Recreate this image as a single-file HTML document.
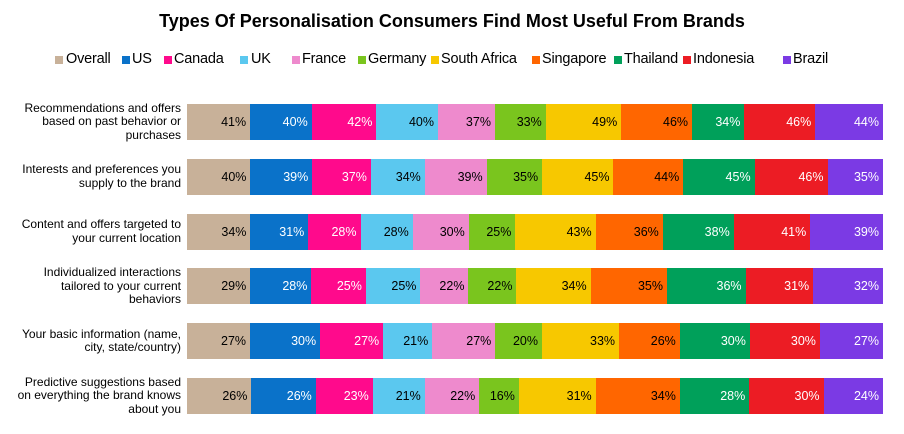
<!DOCTYPE html>
<html><head><meta charset="utf-8"><style>
body{margin:0;width:904px;height:434px;background:#fff;font-family:"Liberation Sans",Arial,sans-serif;position:relative;overflow:hidden}
.t{position:absolute;left:0;width:904px;top:11px;text-align:center;font-weight:bold;font-size:18px;color:#000}
.lg{position:absolute;top:51px;font-size:14.5px;letter-spacing:-0.2px;color:#000;white-space:nowrap}
.sq{position:absolute;top:56px;width:8px;height:8px}
.cat{position:absolute;left:0;width:181px;text-align:right;font-size:12px;line-height:13.5px;color:#000}
.seg{position:absolute;height:36px;font-size:12.5px;line-height:36px;text-align:right;box-sizing:border-box;padding-right:4px;white-space:nowrap}
</style></head><body>
<div class="t">Types Of Personalisation Consumers Find Most Useful From Brands</div>
<div id="root"></div>
<script>
var cols=["#C8B199","#0A72C9","#FF0A8C","#5BC8EF","#EE8ACD","#7AC51E","#F7C800","#FF6600","#00A05A","#EC1C24","#7B3AE4"];
var txt=["#000","#fff","#fff","#000","#000","#000","#000","#000","#fff","#fff","#fff"];
var names=["Overall","US","Canada","UK","France","Germany","South Africa","Singapore","Thailand","Indonesia","Brazil"];
var sx=[55,122,164,240,292,358,431,532,614,683,783];
var tx=[66,132,174,251,302,368,441,542,624,693,793];
var data=[[41,40,42,40,37,33,49,46,34,46,44],[40,39,37,34,39,35,45,44,45,46,35],[34,31,28,28,30,25,43,36,38,41,39],[29,28,25,25,22,22,34,35,36,31,32],[27,30,27,21,27,20,33,26,30,30,27],[26,26,23,21,22,16,31,34,28,30,24]];
var cats=["Recommendations and offers<br>based on past behavior or<br>purchases","Interests and preferences you<br>supply to the brand","Content and offers targeted to<br>your current location","Individualized interactions<br>tailored to your current<br>behaviors","Your basic information (name,<br>city, state/country)","Predictive suggestions based<br>on everything the brand knows<br>about you"];
var h="";
for(var i=0;i<11;i++)h+='<div class="sq" style="left:'+sx[i]+'px;background:'+cols[i]+'"></div><div class="lg" style="left:'+tx[i]+'px">'+names[i]+'</div>';
var x0=187,x1=883;
for(var r=0;r<6;r++){
 var y=104+r*54.8;var d=data[r];var s=0;d.forEach(function(v){s+=v});
 var n=cats[r].split("<br>").length;
 h+='<div class="cat" style="top:'+(y+18-n*13.5/2)+'px">'+cats[r]+'</div>';
 var c=0;
 for(var i=0;i<11;i++){var a=x0+(x1-x0)*c/s;c+=d[i];var b=x0+(x1-x0)*c/s;
 h+='<div class="seg" style="left:'+a+'px;top:'+y+'px;width:'+(b-a)+'px;background:'+cols[i]+';color:'+txt[i]+'">'+d[i]+'%</div>';}
}
document.getElementById("root").innerHTML=h;
</script>
</body></html>
